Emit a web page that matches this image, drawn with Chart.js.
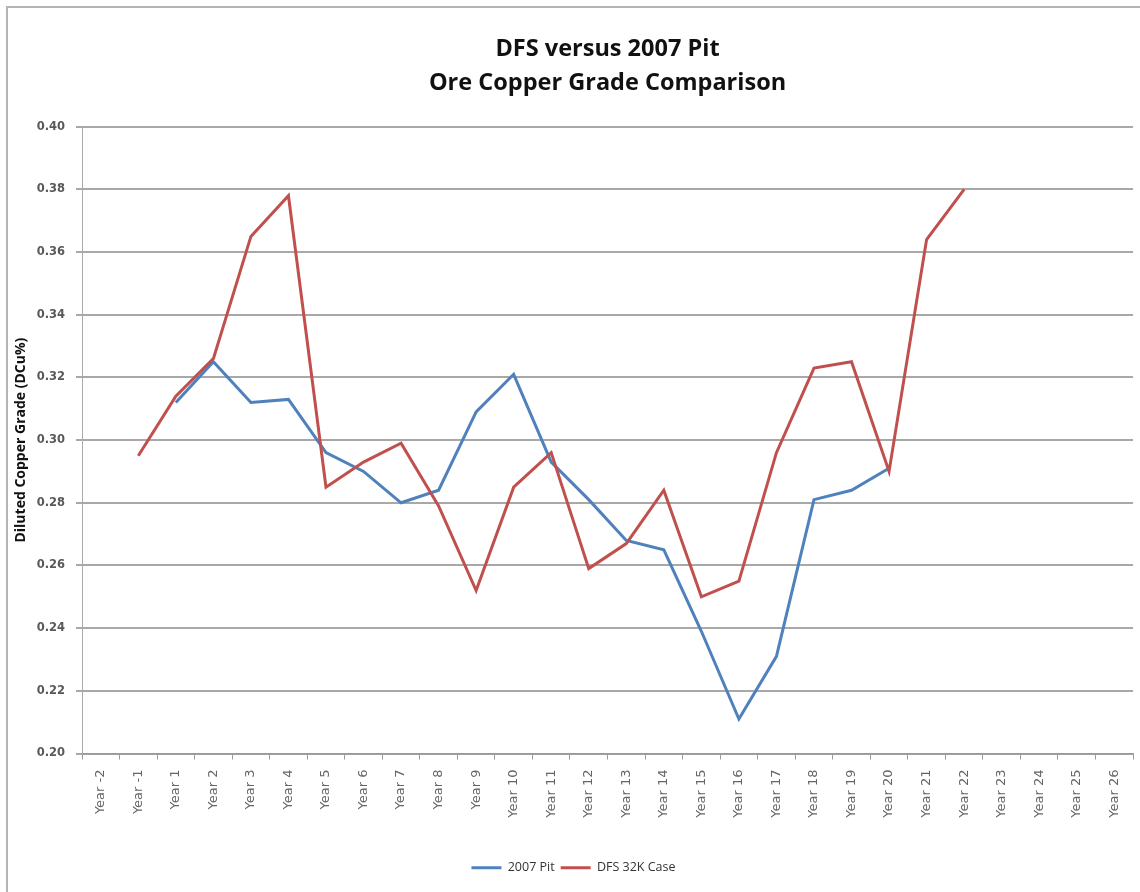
<!DOCTYPE html>
<html>
<head>
<meta charset="utf-8">
<title>DFS versus 2007 Pit</title>
<script src="https://cdn.jsdelivr.net/npm/chart.js@4"></script>
<style>
  body { margin: 0; background: #fff; }
  #wrap { position: relative; width: 1140px; height: 892px; overflow: hidden; }
  #frame { position: absolute; left: 6px; top: 6px; width: 1200px; height: 1000px; border: 2px solid #b4b4b4; }
  #gradeChart { position: absolute; left: 0; top: 0; }
</style>
</head>
<body>
<div id="wrap">
  <div id="frame"></div>
  <canvas id="gradeChart" width="1140" height="892"></canvas>
</div>
<script>
const years = ['Year -2', 'Year -1', 'Year 1', 'Year 2', 'Year 3', 'Year 4', 'Year 5', 'Year 6', 'Year 7',
    'Year 8', 'Year 9', 'Year 10', 'Year 11', 'Year 12', 'Year 13', 'Year 14', 'Year 15', 'Year 16',
    'Year 17', 'Year 18', 'Year 19', 'Year 20', 'Year 21', 'Year 22', 'Year 23', 'Year 24', 'Year 25', 'Year 26'];

const pit2007 = [null, null, 0.312, 0.325, 0.312, 0.313, 0.296, 0.290, 0.280, 0.284, 0.309, 0.321,
    0.293, 0.281, 0.268, 0.265, 0.239, 0.211, 0.231, 0.281, 0.284, 0.291, null, null, null, null, null, null];

const dfs32k = [null, 0.295, 0.314, 0.326, 0.365, 0.378, 0.285, 0.293, 0.299, 0.279, 0.252, 0.285,
    0.296, 0.259, 0.267, 0.284, 0.250, 0.255, 0.296, 0.323, 0.325, 0.290, 0.364, 0.380, null, null, null, null];

const yMin = 0.20;
const yMax = 0.40;
const yStep = 0.02;

const ctx = document.getElementById('gradeChart').getContext('2d');
const gradeChart = new Chart(ctx, {
    type: 'line',
    data: {
        labels: years,
        datasets: [{
            label: '2007 Pit',
            data: pit2007,
            borderColor: '#4f81bd',
            backgroundColor: '#4f81bd',
            borderWidth: 3,
            pointRadius: 0,
            tension: 0,
            order: 1
        }, {
            label: 'DFS 32K Case',
            data: dfs32k,
            borderColor: '#c0504d',
            backgroundColor: '#c0504d',
            borderWidth: 3,
            pointRadius: 0,
            tension: 0,
            order: 0
        }]
    },
    options: {
        responsive: false,
        animation: false,
        layout: {
            padding: { left: 10, right: 3, top: 0, bottom: 8 }
        },
        plugins: {
            title: {
                display: true,
                text: ['DFS versus 2007 Pit', 'Ore Copper Grade Comparison'],
                fullSize: false,
                color: '#111',
                font: { family: 'Open Sans', size: 23.5, weight: 'bold', lineHeight: 1.42 },
                padding: { top: 33, bottom: 27 }
            },
            legend: {
                position: 'bottom',
                labels: {
                    usePointStyle: true,
                    pointStyle: 'line',
                    pointStyleWidth: 30,
                    padding: 6,
                    color: '#333',
                    font: { family: 'Open Sans', size: 12.5 },
                    sort: (a, b) => a.datasetIndex - b.datasetIndex
                }
            },
            tooltip: { enabled: false }
        },
        scales: {
            x: {
                offset: true,
                afterFit: (scale) => { scale.height = 102; },
                grid: {
                    offset: true,
                    drawOnChartArea: false,
                    tickLength: 6,
                    color: '#999',
                    lineWidth: 1
                },
                border: { color: '#999', width: 1.5 },
                ticks: {
                    autoSkip: false,
                    minRotation: 90,
                    maxRotation: 90,
                    padding: 10,
                    color: '#666',
                    font: { family: 'DejaVu Sans', size: 13 }
                }
            },
            y: {
                min: yMin,
                max: yMax,
                afterFit: (scale) => { scale.width = 72; },
                grid: {
                    color: '#a8a8a8',
                    lineWidth: 2,
                    tickLength: 6
                },
                border: { color: '#aaa', width: 1 },
                ticks: {
                    stepSize: yStep,
                    padding: 11,
                    color: '#595959',
                    font: { family: 'DejaVu Sans', size: 11.5, weight: 'bold' },
                    callback: (value) => value.toFixed(2)
                },
                title: {
                    display: true,
                    text: 'Diluted Copper Grade (DCu%)',
                    color: '#111',
                    font: { family: 'Open Sans', size: 14, weight: 'bold' },
                    padding: { top: 3, bottom: 0 }
                }
            }
        }
    }
});
</script>
</body>
</html>
